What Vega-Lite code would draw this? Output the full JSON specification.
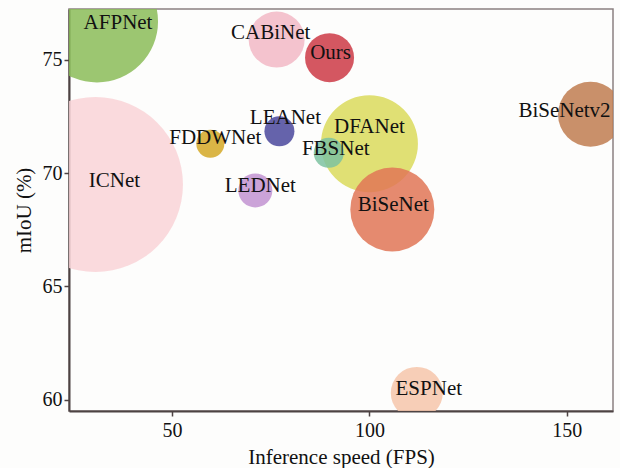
{
  "$schema": "https://vega.github.io/schema/vega-lite/v6.json",
  "autosize": "none",
  "width": 544,
  "height": 402,
  "padding": {"left": 69, "top": 9, "right": 7, "bottom": 57},
  "background": "#fdfdfc",
  "config": {
    "view": {"stroke": "#8a8080", "strokeWidth": 1.5},
    "font": "Liberation Serif",
    "axis": {
      "domainColor": "#4d4343", "domainWidth": 2, "tickColor": "#4d4343", "tickWidth": 1.5, "tickSize": 5,
      "grid": false, "labelFont": "Liberation Serif", "labelFontSize": 20, "labelColor": "#111",
      "titleFont": "Liberation Serif", "titleFontSize": 21, "titleFontWeight": "normal", "titleColor": "#111"
    }
  },
  "data": {"values": [
    {"model": "ICNet", "fps": 30.6, "miou": 69.5, "size": 87.5},
    {"model": "AFPNet", "fps": 31.0, "miou": 76.7, "size": 61},
    {"model": "DFANet", "fps": 100, "miou": 71.3, "size": 48.5},
    {"model": "BiSeNet", "fps": 105.8, "miou": 68.4, "size": 42},
    {"model": "CABiNet", "fps": 76.5, "miou": 75.9, "size": 28},
    {"model": "Ours", "fps": 89.9, "miou": 75.1, "size": 24.5},
    {"model": "BiSeNetv2", "fps": 156, "miou": 72.6, "size": 32.5},
    {"model": "ESPNet", "fps": 112, "miou": 60.3, "size": 26},
    {"model": "FBSNet", "fps": 89.7, "miou": 70.9, "size": 15},
    {"model": "LEANet", "fps": 77.2, "miou": 71.85, "size": 15},
    {"model": "FDDWNet", "fps": 59.7, "miou": 71.3, "size": 14},
    {"model": "LEDNet", "fps": 71.1, "miou": 69.24, "size": 17}
  ]},
  "encoding": {
    "x": {"field": "fps", "type": "quantitative", "scale": {"domain": [23.9, 161.7], "nice": false, "zero": false},
      "axis": {"values": [50, 100, 150], "title": "Inference speed (FPS)", "labelPadding": 4, "titlePadding": 6}},
    "y": {"field": "miou", "type": "quantitative", "scale": {"domain": [59.5, 77.25], "nice": false, "zero": false},
      "axis": {"values": [60, 65, 70, 75], "title": "mIoU (%)", "labelPadding": 2, "titlePadding": 8}}
  },
  "layer": [
    {
      "mark": {"type": "point", "filled": true, "shape": "circle", "opacity": 0.85, "clip": true},
      "encoding": {
        "size": {"field": "size", "type": "quantitative", "scale": {"type": "pow", "exponent": 2, "domain": [0, 100], "range": [0, 40000]}, "legend": null},
        "color": {"field": "model", "type": "nominal", "legend": null, "scale": {
          "domain": ["ICNet", "AFPNet", "DFANet", "BiSeNet", "CABiNet", "Ours", "BiSeNetv2", "ESPNet", "FBSNet", "LEANet", "FDDWNet", "LEDNet"],
          "range": ["#f9d4d7", "#8bbc58", "#dadb5c", "#e17556", "#f2b9c5", "#cd3a45", "#c07c50", "#f6c6aa", "#7cc2a0", "#4a489c", "#d3a826", "#c293d1"]}}
      }
    },
    {"transform": [{"filter": "datum.model == 'AFPNet'"}], "mark": {"type": "text", "fontSize": 21, "font": "Liberation Serif", "color": "#111", "dx": 21, "dy": 2}, "encoding": {"text": {"field": "model"}}},
    {"transform": [{"filter": "datum.model == 'ICNet'"}], "mark": {"type": "text", "fontSize": 21, "font": "Liberation Serif", "color": "#111", "dx": 19, "dy": -4}, "encoding": {"text": {"field": "model"}}},
    {"transform": [{"filter": "datum.model == 'CABiNet'"}], "mark": {"type": "text", "fontSize": 21, "font": "Liberation Serif", "color": "#111", "dx": -6, "dy": -7}, "encoding": {"text": {"field": "model"}}},
    {"transform": [{"filter": "datum.model == 'Ours'"}], "mark": {"type": "text", "fontSize": 21, "font": "Liberation Serif", "color": "#111", "dx": 1, "dy": -5}, "encoding": {"text": {"field": "model"}}},
    {"transform": [{"filter": "datum.model == 'LEANet'"}], "mark": {"type": "text", "fontSize": 21, "font": "Liberation Serif", "color": "#111", "dx": 6, "dy": -13}, "encoding": {"text": {"field": "model"}}},
    {"transform": [{"filter": "datum.model == 'FDDWNet'"}], "mark": {"type": "text", "fontSize": 21, "font": "Liberation Serif", "color": "#111", "dx": 5, "dy": -6}, "encoding": {"text": {"field": "model"}}},
    {"transform": [{"filter": "datum.model == 'LEDNet'"}], "mark": {"type": "text", "fontSize": 21, "font": "Liberation Serif", "color": "#111", "dx": 5, "dy": -4}, "encoding": {"text": {"field": "model"}}},
    {"transform": [{"filter": "datum.model == 'DFANet'"}], "mark": {"type": "text", "fontSize": 21, "font": "Liberation Serif", "color": "#111", "dx": 0, "dy": -17}, "encoding": {"text": {"field": "model"}}},
    {"transform": [{"filter": "datum.model == 'FBSNet'"}], "mark": {"type": "text", "fontSize": 21, "font": "Liberation Serif", "color": "#111", "dx": 7, "dy": -4}, "encoding": {"text": {"field": "model"}}},
    {"transform": [{"filter": "datum.model == 'BiSeNet'"}], "mark": {"type": "text", "fontSize": 21, "font": "Liberation Serif", "color": "#111", "dx": 1, "dy": -4}, "encoding": {"text": {"field": "model"}}},
    {"transform": [{"filter": "datum.model == 'BiSeNetv2'"}], "mark": {"type": "text", "fontSize": 21, "font": "Liberation Serif", "color": "#111", "dx": -26, "dy": -3}, "encoding": {"text": {"field": "model"}}},
    {"transform": [{"filter": "datum.model == 'ESPNet'"}], "mark": {"type": "text", "fontSize": 21, "font": "Liberation Serif", "color": "#111", "dx": 12, "dy": -4}, "encoding": {"text": {"field": "model"}}}
  ]
}
